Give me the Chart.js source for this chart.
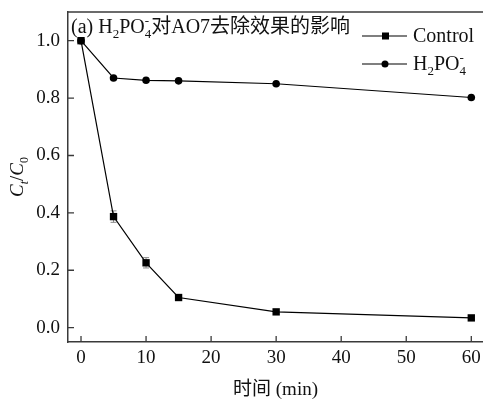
<!DOCTYPE html>
<html>
<head>
<meta charset="utf-8">
<script src="https://cdn.jsdelivr.net/npm/chart.js@4.4.1/dist/chart.umd.min.js"></script>
<style>
  body { margin: 0; background: #fff; }
  canvas { display: block; }
</style>
</head>
<body>
<canvas id="myChart" width="483" height="401"></canvas>
<script>
// time in min
var times = [0, 5, 10, 15, 30, 60];
var control = [1.0, 0.387, 0.226, 0.105, 0.055, 0.034];
var controlErr = [0, 0.02, 0.018, 0, 0, 0];
var h2po4 = [1.0, 0.870, 0.862, 0.860, 0.850, 0.802];
var xTicks = [0, 10, 20, 30, 40, 50, 60];
var yTicks = [0, 0.2, 0.4, 0.6, 0.8, 1.0];

var serif = "'Liberation Serif', 'Times New Roman', 'Noto Sans CJK SC', serif";
var axisColor = "#3a3a3a";

// draws a run of text pieces: {t, k} with k = "n" normal, "sub", "stack" (sup over sub)
function drawRich(ctx, parts, x, y, size) {
  ctx.textBaseline = "alphabetic";
  ctx.textAlign = "left";
  parts.forEach(function(p) {
    var ital = p.i ? "italic " : "";
    if (p.k == "n") {
      ctx.font = ital + size + "px " + serif;
      ctx.fillText(p.t, x, y);
      x += ctx.measureText(p.t).width;
    } else if (p.k == "sub") {
      ctx.font = ital + Math.round(size * 0.65) + "px " + serif;
      ctx.fillText(p.t, x, y + size * 0.25);
      x += ctx.measureText(p.t).width;
    } else if (p.k == "stack") {
      ctx.font = ital + Math.round(size * 0.65) + "px " + serif;
      ctx.fillText(p.sup, x, y - size * 0.42);
      ctx.fillText(p.sub, x, y + size * 0.25);
      x += Math.max(ctx.measureText(p.sup).width, ctx.measureText(p.sub).width);
    }
  });
  return x;
}

var h2po4Parts = [
  {t: "H", k: "n"}, {t: "2", k: "sub"}, {t: "PO", k: "n"}, {k: "stack", sup: "-", sub: "4"}
];

var decor = {
  id: "decor",
  beforeDatasetsDraw: function(chart) {
    var ctx = chart.ctx;
    var xs = chart.scales.x, ys = chart.scales.y;
    // error bars
    ctx.save();
    ctx.strokeStyle = "#888";
    ctx.lineWidth = 1;
    for (var i = 0; i < times.length; i++) {
      if (!controlErr[i]) continue;
      var px = xs.getPixelForValue(times[i]);
      var y1 = ys.getPixelForValue(control[i] - controlErr[i]);
      var y2 = ys.getPixelForValue(control[i] + controlErr[i]);
      ctx.beginPath();
      ctx.moveTo(px, y1); ctx.lineTo(px, y2);
      ctx.moveTo(px - 3, y1); ctx.lineTo(px + 3, y1);
      ctx.moveTo(px - 3, y2); ctx.lineTo(px + 3, y2);
      ctx.stroke();
    }
    ctx.restore();
  },
  afterDraw: function(chart) {
    var ctx = chart.ctx;
    var a = chart.chartArea;
    var xs = chart.scales.x, ys = chart.scales.y;
    ctx.save();
    // top frame line
    ctx.strokeStyle = axisColor;
    ctx.lineWidth = 1.5;
    ctx.beginPath();
    ctx.moveTo(a.left, a.top); ctx.lineTo(a.right, a.top);
    ctx.stroke();
    // inward ticks
    ctx.lineWidth = 1.3;
    ctx.beginPath();
    xTicks.forEach(function(v) {
      var px = xs.getPixelForValue(v);
      ctx.moveTo(px, a.bottom); ctx.lineTo(px, a.bottom - 6);
    });
    yTicks.forEach(function(v) {
      var py = ys.getPixelForValue(v);
      ctx.moveTo(a.left, py); ctx.lineTo(a.left + 6, py);
    });
    ctx.stroke();

    ctx.fillStyle = "#111";
    // panel title
    var x = drawRich(ctx, [{t: "(a) ", k: "n"}].concat(h2po4Parts), a.left + 3, 33, 20);
    ctx.font = "20px 'Noto Sans CJK SC', sans-serif";
    ctx.fillText("对", x, 33);
    x += ctx.measureText("对").width;
    ctx.font = "20px " + serif;
    ctx.fillText("AO7", x, 33);
    x += ctx.measureText("AO7").width;
    ctx.font = "20px 'Noto Sans CJK SC', sans-serif";
    ctx.fillText("去除效果的影响", x, 33);

    // legend
    var rows = [{y: 36, style: "rect"}, {y: 64, style: "circle"}];
    rows.forEach(function(r, i) {
      ctx.strokeStyle = "#000";
      ctx.lineWidth = 1.2;
      ctx.beginPath();
      ctx.moveTo(362, r.y); ctx.lineTo(407, r.y);
      ctx.stroke();
      ctx.fillStyle = "#000";
      if (r.style == "rect") {
        ctx.fillRect(382, r.y - 3.5, 7, 7);
      } else {
        ctx.beginPath(); ctx.arc(385, r.y, 3.5, 0, Math.PI * 2); ctx.fill();
      }
      ctx.fillStyle = "#111";
      if (i == 0) {
        ctx.font = "20px " + serif;
        ctx.textBaseline = "alphabetic";
        ctx.fillText("Control", 413, r.y + 6);
      } else {
        drawRich(ctx, h2po4Parts, 413, r.y + 6, 20);
      }
    });

    // y axis title  Ct/C0
    ctx.translate(17, (a.top + a.bottom) / 2);
    ctx.rotate(-Math.PI / 2);
    var parts = [{t: "C", k: "n", i: true}, {t: "t", k: "sub", i: true}, {t: "/", k: "n"}, {t: "C", k: "n", i: true}, {t: "0", k: "sub"}];
    var w = 0;
    parts.forEach(function(p) {
      ctx.font = (p.i ? "italic " : "") + (p.k == "sub" ? 12 : 19) + "px " + serif;
      w += ctx.measureText(p.t).width;
    });
    drawRich(ctx, parts, -w / 2, 6, 19);
    ctx.restore();
  }
};

var chart = new Chart(document.getElementById("myChart"), {
  type: "line",
  data: {
    datasets: [
      {
        label: "Control",
        data: times.map(function(t, i) { return {x: t, y: control[i]}; }),
        borderColor: "#000",
        backgroundColor: "#000",
        borderWidth: 1.2,
        pointStyle: "rect",
        pointRadius: 5.2,
        pointBorderWidth: 0,
        tension: 0
      },
      {
        label: "H2PO4-",
        data: times.map(function(t, i) { return {x: t, y: h2po4[i]}; }),
        borderColor: "#000",
        backgroundColor: "#000",
        borderWidth: 1.2,
        pointStyle: "circle",
        pointRadius: 3.8,
        pointBorderWidth: 0,
        tension: 0
      }
    ]
  },
  options: {
    responsive: false,
    animation: false,
    layout: { autoPadding: false, padding: { top: 12, right: 0, left: 0, bottom: 0 } },
    plugins: {
      legend: { display: false },
      tooltip: { enabled: false }
    },
    scales: {
      x: {
        type: "linear",
        min: -2,
        max: 61.8,
        afterBuildTicks: function(s) { s.ticks = xTicks.map(function(v) { return {value: v}; }); },
        afterFit: function(s) { s.height = 59; s.paddingLeft = 0; s.paddingRight = 0; },
        grid: { drawOnChartArea: false, drawTicks: false },
        border: { color: axisColor, width: 1.5 },
        ticks: {
          padding: 5,
          color: "#111",
          font: { family: serif, size: 19 },
          callback: function(v) { return v; }
        },
        title: {
          display: true,
          text: "时间 (min)",
          color: "#111",
          font: { family: serif, size: 19 },
          padding: { top: 3, bottom: 0 }
        }
      },
      y: {
        type: "linear",
        min: -0.05,
        max: 1.1,
        afterBuildTicks: function(s) { s.ticks = yTicks.map(function(v) { return {value: v}; }); },
        afterFit: function(s) { s.width = 68; s.paddingTop = 0; s.paddingBottom = 0; },
        grid: { drawOnChartArea: false, drawTicks: false },
        border: { color: axisColor, width: 1.5 },
        ticks: {
          padding: 8,
          color: "#111",
          font: { family: serif, size: 19 },
          callback: function(v) { return v.toFixed(1); }
        }
      }
    }
  },
  plugins: [decor]
});
</script>
</body>
</html>
